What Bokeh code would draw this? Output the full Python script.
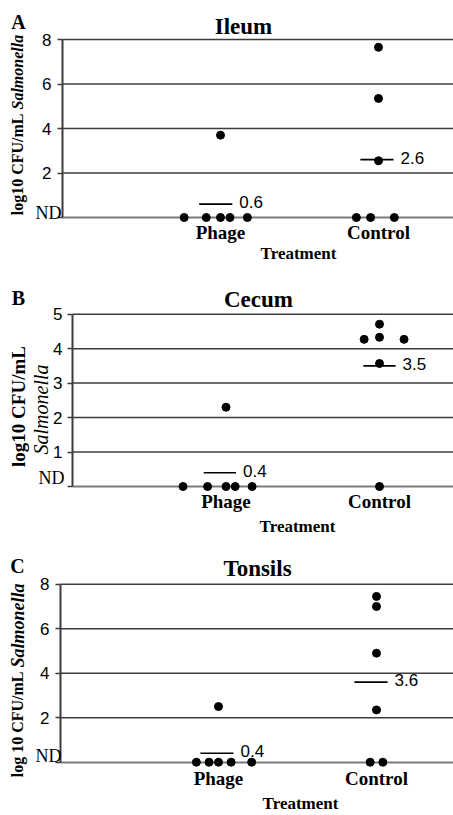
import math
from bokeh.plotting import figure
from bokeh.models import Range1d, FixedTicker, Label
from bokeh.layouts import column
from bokeh.core.properties import value
from bokeh.embed import file_html
from bokeh.resources import INLINE

# ---------------- data ----------------
groups = ["Phage", "Control"]
group_pos = [1, 2]

# A - Ileum
ileum_phage_x = [0.77, 0.91, 1.00, 1.06, 1.17, 1.00]
ileum_phage_y = [0, 0, 0, 0, 0, 3.7]
ileum_ctrl_x = [1.86, 1.95, 2.10, 2.00, 2.00, 2.00]
ileum_ctrl_y = [0, 0, 0, 2.55, 5.35, 7.65]
ileum_mean_x = [0.97, 1.99]
ileum_means = [0.6, 2.6]
ileum_ticks = [0, 2, 4, 6, 8]

# B - Cecum
cecum_phage_x = [0.72, 0.88, 1.00, 1.06, 1.17, 1.00]
cecum_phage_y = [0, 0, 0, 0, 0, 2.3]
cecum_ctrl_x = [2.00, 1.90, 2.00, 2.00, 2.16, 2.00]
cecum_ctrl_y = [0, 4.27, 3.57, 4.33, 4.27, 4.71]
cecum_mean_x = [0.96, 2.00]
cecum_means = [0.4, 3.5]
cecum_ticks = [0, 1, 2, 3, 4, 5]

# C - Tonsils
tonsils_phage_x = [0.86, 0.94, 1.00, 1.08, 1.21, 1.00]
tonsils_phage_y = [0, 0, 0, 0, 0, 2.5]
tonsils_ctrl_x = [1.96, 2.04, 2.00, 2.00, 2.00, 2.00]
tonsils_ctrl_y = [0, 0, 2.35, 4.9, 7.0, 7.45]
tonsils_mean_x = [0.99, 1.965]
tonsils_means = [0.4, 3.6]
tonsils_ticks = [0, 2, 4, 6, 8]

SERIF = "Liberation Serif"
SANS = "Liberation Sans"
GRID = "#3c3c3c"
BASE = "#7a7a7a"
W = 453


def make_panel(cfg):
    left, kx, ky = cfg["left"], cfg["kx"], cfg["ky"]
    H = cfg["height"]
    nd_ref = cfg["nd_ref"]
    nd_fig = nd_ref + cfg["shift"] - cfg["fig_top"]   # ND line, px from figure top
    x0, x1 = -left / kx, (W - left) / kx
    y0, y1 = -(H - nd_fig) / ky, nd_fig / ky

    p = figure(width=W, height=H, x_range=Range1d(x0, x1), y_range=Range1d(y0, y1),
               min_border=0, output_backend="svg", toolbar_location=None)
    p.outline_line_color = None
    p.background_fill_color = "white"
    p.border_fill_color = "white"
    p.xgrid.visible = False
    p.ygrid.visible = False

    ticks = cfg["ticks"]
    ymax = ticks[-1]

    # y axis drawn at x = 0 inside the figure
    ax = p.yaxis[0]
    ax.fixed_location = 0
    ax.bounds = (0, ymax)
    ax.ticker = FixedTicker(ticks=ticks)
    ax.major_label_overrides = {0: ""}
    ax.axis_line_color = GRID
    ax.axis_line_width = 2
    ax.major_tick_out = 5
    ax.major_tick_in = 0
    ax.major_tick_line_color = GRID
    ax.major_tick_line_width = 1.5
    ax.minor_tick_line_color = None
    ax.major_label_text_font = SANS
    ax.major_label_text_font_size = "17px"
    ax.major_label_text_color = "black"
    ax.major_label_standoff = cfg["standoff"]

    # x axis = the grey ND baseline with the group names
    bx = p.xaxis[0]
    bx.fixed_location = 0
    bx.bounds = (0, x1)
    bx.level = "underlay"
    bx.ticker = FixedTicker(ticks=group_pos)
    bx.major_label_overrides = {k: g for k, g in zip(group_pos, groups)}
    bx.axis_line_color = BASE
    bx.axis_line_width = 2
    bx.major_tick_line_color = None
    bx.major_tick_out = 0
    bx.major_tick_in = 0
    bx.minor_tick_line_color = None
    bx.major_label_text_font = SERIF
    bx.major_label_text_font_style = "bold"
    bx.major_label_text_font_size = "19px"
    bx.major_label_text_color = "black"
    bx.major_label_standoff = cfg["xstandoff"]

    # horizontal grid lines from the axis to the right edge
    gt = ticks[1:]
    p.segment(x0=[0] * len(gt), x1=[x1] * len(gt), y0=gt, y1=gt,
              line_color=GRID, line_width=1.5)

    hw = 0.105
    mx = cfg["mean_x"]
    mv = cfg["means"]
    p.segment(x0=[m - hw for m in mx], x1=[m + hw for m in mx], y0=mv, y1=mv,
              line_color="black", line_width=1.6)
    p.text(x=[m + hw for m in mx], y=mv, text=[f"{v:.1f}" for v in mv],
           x_offset=7, y_offset=-2, text_baseline="middle", text_align="left",
           text_font=value(SANS), text_font_size=value("17px"), text_color="black")

    p.scatter(cfg["phage_x"], cfg["phage_y"], size=8, color="black")
    p.scatter(cfg["ctrl_x"], cfg["ctrl_y"], size=8, color="black")

    def lab(text, X, Y, size, style="bold", font=SERIF, align="center", angle=0.0):
        p.add_layout(Label(x=(X - left) / kx, y=(nd_ref - Y) / ky,
                           text=text, text_font=font,
                           text_font_style=style, text_font_size=size,
                           text_align=align, text_baseline="middle",
                           angle=angle, text_color="black"))

    lab(cfg["letter"], *cfg["letter_pos"], "20px")
    lab(cfg["title"], *cfg["title_pos"], "23px")
    for (txt, X, Y, size, style, align) in cfg["ylabel"]:
        lab(txt, X, Y, size, style=style, align=align, angle=math.pi / 2)
    lab("ND", cfg["nd_pos"][0], cfg["nd_pos"][1], "18px", style="normal", align="right")
    lab("Treatment", *cfg["treat_pos"], "17px")
    return p


pA = make_panel(dict(
    left=62, kx=158.0, ky=22.25, nd_ref=217.0, shift=0, fig_top=0, height=265,
    ticks=ileum_ticks, standoff=6, xstandoff=4,
    phage_x=ileum_phage_x, phage_y=ileum_phage_y,
    ctrl_x=ileum_ctrl_x, ctrl_y=ileum_ctrl_y,
    mean_x=ileum_mean_x, means=ileum_means,
    letter="A", letter_pos=(18, 21), title="Ileum", title_pos=(243, 26),
    ylabel=[("log10 CFU/mL", 17, 113, "16px", "bold", "right"),
            ("Salmonella", 17, 109, "16px", "bold italic", "left")],
    nd_pos=(61, 212), treat_pos=(298, 253)))

pB = make_panel(dict(
    left=72, kx=153.5, ky=34.46, nd_ref=489.0, shift=-3, fig_top=265, height=271,
    ticks=cecum_ticks, standoff=5, xstandoff=4,
    phage_x=cecum_phage_x, phage_y=cecum_phage_y,
    ctrl_x=cecum_ctrl_x, ctrl_y=cecum_ctrl_y,
    mean_x=cecum_mean_x, means=cecum_means,
    letter="B", letter_pos=(18, 300), title="Cecum", title_pos=(258, 302),
    ylabel=[("log10 CFU/mL", 18, 409, "19px", "bold", "center"),
            ("Salmonella", 40, 412, "20px", "italic", "center")],
    nd_pos=(64, 480), treat_pos=(297, 529)))

pC = make_panel(dict(
    left=60, kx=158.0, ky=22.25, nd_ref=768.7, shift=-7, fig_top=536, height=277,
    ticks=tonsils_ticks, standoff=6, xstandoff=6,
    phage_x=tonsils_phage_x, phage_y=tonsils_phage_y,
    ctrl_x=tonsils_ctrl_x, ctrl_y=tonsils_ctrl_y,
    mean_x=tonsils_mean_x, means=tonsils_means,
    letter="C", letter_pos=(17, 572), title="Tonsils", title_pos=(257, 575),
    ylabel=[("log 10 CFU/mL", 17, 678, "16px", "bold", "right"),
            ("Salmonella", 17, 674, "18px", "bold italic", "left")],
    nd_pos=(61, 762), treat_pos=(300, 810)))

layout = column(pA, pB, pC, spacing=0)
open("out.html", "w").write(file_html(layout, INLINE))
